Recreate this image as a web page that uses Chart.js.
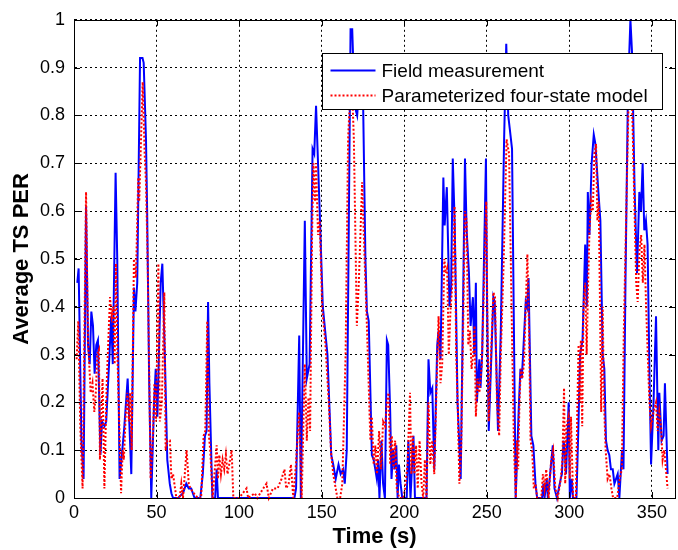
<!DOCTYPE html>
<html>
<head>
<meta charset="utf-8">
<script src="https://cdn.jsdelivr.net/npm/chart.js@4.4.0/dist/chart.umd.min.js"></script>
<style>
    html, body { margin: 0; padding: 0; background: #fff; }
    #wrap { width: 678px; height: 550px; }
</style>
</head>
<body>
<div id="wrap"><canvas id="perChart" width="678" height="550"></canvas></div>
<script>
// ==========================================
// AVERAGE TS PER vs TIME (field vs model)
// ==========================================

// --- DATA ---

const seriesLabels = ['Field measurement', 'Parameterized four-state model'];

const xTicks = [0, 50, 100, 150, 200, 250, 300, 350];
const yTicks = [0, 0.1, 0.2, 0.3, 0.4, 0.5, 0.6, 0.7, 0.8, 0.9, 1];

// [time (s), PER]
const fieldMeasurement = [
    [2, 0.45], [2.8, 0.48], [4.5, 0.12], [5.8, 0.04], [7.3, 0.61], [8.5, 0.32], [9.5, 0.28], [10.5, 0.39],
    [11.5, 0.36], [12.5, 0.26], [13.5, 0.32], [14.5, 0.33], [16, 0.09], [17, 0.16], [18.5, 0.15], [19.5, 0.16],
    [20.5, 0.23], [21.5, 0.30], [22.5, 0.38], [23.5, 0.28], [25.2, 0.68], [26.2, 0.50], [27.6, 0.04], [29, 0.09],
    [30.5, 0.15], [32.5, 0.25], [34.7, 0.05], [36.3, 0.44], [37.2, 0.39], [38.3, 0.45], [40, 0.92], [41.5, 0.92],
    [42.2, 0.91], [43.6, 0.75], [44.3, 0.60], [45.5, 0.25], [46.8, 0.00], [48.5, 0.20], [49.5, 0.27], [50.5, 0.17],
    [52.5, 0.45], [53.5, 0.49], [55, 0.30], [56.5, 0.08], [58, 0.03], [59, 0.01],
    [60, 0], [63, 0], [66, 0.01], [68, 0.03], [69.5, 0.02], [71, 0.02], [73, 0], [76.5, 0], [78, 0.05],
    [79.3, 0.13], [80.3, 0.14], [81.2, 0.41], [82, 0.24], [83.8, 0], [85.5, 0], [86.4, 0.06], [87.2, 0],
    [100, 0], [120, 0], [133.5, 0],
    [134.5, 0.02], [136.4, 0.34], [137.4, 0], [139.8, 0.58], [141, 0.25], [142.7, 0.28], [144.5, 0.73],
    [145.5, 0.72], [146.6, 0.82], [148.8, 0.60], [150.7, 0.40], [153.5, 0.30], [155.8, 0.09], [157, 0.07],
    [158.5, 0.04], [160.2, 0.07], [161.5, 0.05], [163, 0.06], [164, 0.03], [165.2, 0.10], [167.5, 0.98],
    [168.5, 0.98], [170, 0.82], [171.5, 0.80], [173.5, 0.90], [175, 0.85], [176.5, 0.50], [177.4, 0.39],
    [178.5, 0.37], [180.4, 0.09], [181.5, 0.08], [182.5, 0.06], [183.4, 0.04], [184.2, 0.08], [185, 0],
    [186.2, 0.12], [187.2, 0.03], [188.3, 0], [189.5, 0.33], [190.3, 0.32], [191.5, 0.18], [192.3, 0.04],
    [193.3, 0.10], [194.2, 0.06], [195.2, 0.11], [196, 0], [196.8, 0.07], [197.8, 0.03], [198.8, 0],
    [201.5, 0], [202.5, 0.12], [203.8, 0], [205.6, 0.13], [206.5, 0], [213.5, 0],
    [214.7, 0.29], [215.8, 0.22], [217, 0.23], [218.2, 0.06], [220, 0.32], [220.8, 0.35], [222, 0.29],
    [223.7, 0.67], [224.5, 0.57], [225.8, 0.65], [227.4, 0.40], [228.4, 0.44], [229.4, 0.71], [230.6, 0.57],
    [232.3, 0.20], [234.2, 0.04], [236.8, 0.71], [237.8, 0.56], [239.2, 0.47], [240.2, 0.36], [241.6, 0.42],
    [242.4, 0.30], [243.4, 0.45], [244, 0.20], [245.5, 0.29], [246.2, 0.23], [247.2, 0.30], [249.5, 0.71],
    [250.2, 0.40], [251.2, 0.14], [252.5, 0.27], [254, 0.42], [254.8, 0.41], [256.8, 0.14], [258.5, 0.35],
    [260.5, 0.75], [261.8, 0.95], [263, 0.80], [264, 0.77], [265.3, 0.73], [267.5, 0],
    [268.5, 0.10], [269.5, 0.20], [270.4, 0.27], [271.2, 0.25], [272, 0.30], [273.6, 0.41], [274.4, 0.40],
    [275.3, 0.46], [277, 0.13], [278.2, 0.11], [279.5, 0.03], [280.5, 0], [283.5, 0], [284.3, 0.03],
    [285, 0], [286.3, 0.04], [287, 0], [290, 0.11], [291, 0.02], [292.5, 0], [294.8, 0.04], [295.5, 0.05],
    [296.5, 0.12], [297.2, 0.10], [298, 0.05], [299.6, 0.20], [300.3, 0], [301.5, 0.04], [302.2, 0], [304.3, 0],
    [305.5, 0.15], [306.5, 0.30], [308, 0.33], [309.6, 0.53], [310.6, 0.40], [311.2, 0.64], [312.2, 0.55],
    [313.5, 0.70], [314.8, 0.76], [315.8, 0.74], [317.6, 0.64], [318.8, 0.58], [320.2, 0.30], [321.2, 0.27],
    [322.2, 0.12], [323.2, 0.10], [324.2, 0.09], [325.2, 0.06], [326.3, 0.06], [327.3, 0.03], [328.3, 0.04],
    [329.3, 0.05], [330.3, 0], [331.9, 0.10], [332.8, 0.06], [334, 0.45], [335.5, 0.85], [337, 1.00],
    [338, 0.93], [339.5, 0.65], [341, 0.47], [342.4, 0.64], [343.4, 0.60], [344.4, 0.70], [345.4, 0.56],
    [346.4, 0.58], [347.4, 0.53], [348.4, 0.29], [349.5, 0.07], [351, 0.20], [352.5, 0.38], [353.9, 0.10],
    [354.5, 0.22], [355.9, 0.12], [357.1, 0.13], [357.9, 0.24], [359.5, 0.05]
];

const fourStateModel = [
    [1.6, 0.29], [2.6, 0.37], [3.8, 0.15], [5.2, 0.02], [7.3, 0.64], [8.5, 0.33], [10.1, 0.22], [11.2, 0.24],
    [12.3, 0.18], [13.2, 0.22], [14.1, 0.30], [15.1, 0.31], [15.7, 0.08], [17.3, 0.25], [18.4, 0.02], [19.8, 0.24],
    [21.8, 0.42], [22.8, 0.38], [23.8, 0.40], [24.6, 0.28], [25.4, 0.49], [26.3, 0.30], [28.5, 0.01], [29.5, 0.10],
    [30.2, 0.08], [31.3, 0.17], [32.3, 0.22], [33.2, 0.16], [34, 0.22], [34.9, 0.10], [36.3, 0.50], [37.5, 0.46],
    [38.9, 0.67], [39.5, 0.62], [41.6, 0.87], [42.8, 0.72], [43.6, 0.66], [44.6, 0.50], [46.4, 0.04], [47.8, 0.13],
    [48.7, 0.24], [49.7, 0.16], [51.1, 0.49], [52, 0.16], [53.2, 0.20], [54.7, 0.43], [55.5, 0.10], [56.5, 0.12],
    [58.1, 0.12], [59, 0.04], [60, 0.05], [62, 0], [64, 0], [65, 0.03], [66, 0], [68.2, 0.10], [69.5, 0.03],
    [70.5, 0.02], [72.5, 0.01], [75, 0], [77, 0], [78.5, 0.13], [79.5, 0.14], [80.7, 0.37], [81.7, 0.13],
    [82.5, 0.10], [84, 0], [86.4, 0.11], [87.2, 0.04], [88, 0.09], [89, 0.05], [90, 0.08], [91, 0.06],
    [92, 0.09], [93, 0.05], [94.5, 0.08], [95.5, 0.10], [96.5, 0],
    [100, 0], [104.5, 0.02], [105.5, 0], [109.5, 0.01], [111, 0], [114.6, 0.02], [116.6, 0.03], [118, 0],
    [120.5, 0.02], [123.3, 0.02], [125.7, 0.04], [127.5, 0.06], [128.5, 0.02], [130, 0.03], [131.4, 0.07],
    [132.8, 0], [134.4, 0.07], [136.4, 0.18], [137.9, 0], [139.8, 0.28], [141, 0.12], [142, 0.21], [143, 0.14],
    [144.2, 0.55], [145, 0.70], [146, 0.62], [146.6, 0.70], [147.8, 0.55], [148.8, 0.58], [150.3, 0.40],
    [152.3, 0.32], [154.3, 0.20], [155.8, 0.09], [157, 0.05], [158.5, 0.02], [159.5, 0], [161.2, 0],
    [162.5, 0.03], [164.5, 0.30], [166, 0.75], [168, 0.90], [169.5, 0.75], [171.3, 0.36], [172.5, 0.45],
    [174.5, 0.66], [176, 0.50], [177.5, 0.35], [178.8, 0.20], [179.5, 0.12], [180.4, 0.17], [181.5, 0.07],
    [182.5, 0.11], [183.5, 0.05], [184.8, 0.14], [186, 0.06], [187.2, 0.16], [188.5, 0.15], [189.5, 0.20],
    [190.5, 0.22], [191.5, 0.07], [192.5, 0.13], [193.5, 0.06], [194.5, 0.12], [195.5, 0.02], [197, 0],
    [199.5, 0], [200.5, 0.02], [202, 0.07], [203.5, 0.22], [204.3, 0.05], [205.2, 0.13], [206.2, 0.05],
    [207.2, 0.11], [208.2, 0.02], [209.3, 0.12], [210.5, 0.03], [211.5, 0], [212.5, 0.08], [213.5, 0],
    [214.7, 0.20], [215.8, 0.07], [217, 0.12], [218.2, 0.05], [219.5, 0.22], [220.8, 0.38], [222, 0.24],
    [223, 0.28], [224.3, 0.50], [225.2, 0.47], [226, 0.48], [227, 0.30], [228, 0.39], [229.2, 0.45],
    [230.5, 0.61], [231.5, 0.30], [232.5, 0.18], [233.4, 0.03], [234.5, 0.10], [236.8, 0.60], [237.8, 0.58],
    [238.8, 0.32], [239.8, 0.35], [240.8, 0.27], [241.8, 0.30], [242.6, 0.36], [243.4, 0.17], [244.4, 0.25],
    [245.5, 0.22], [247, 0.28], [249.7, 0.62], [250.4, 0.37], [251.2, 0.16], [252, 0.25], [254, 0.43],
    [255, 0.42], [256.2, 0.20], [257.5, 0.13], [258.5, 0.30], [260.2, 0.49], [262, 0.75], [263.5, 0.72],
    [265, 0.40], [266.5, 0.10], [267.6, 0],
    [268.3, 0.12], [269, 0.06], [269.8, 0.20], [270.6, 0.27], [271.5, 0.25], [272.5, 0.28], [273.6, 0.40],
    [274.6, 0.51], [275.6, 0.35], [276.5, 0.12], [277.5, 0.10], [278.5, 0.02], [279.5, 0.03], [280.5, 0],
    [283, 0], [284, 0.05], [285, 0.02], [286, 0.06], [287.5, 0], [289, 0.08], [290.2, 0.10], [291.5, 0.02],
    [293, 0], [294.8, 0.04], [295.8, 0.08], [296.8, 0.23], [297.5, 0.03], [298.3, 0.15], [299.5, 0.17],
    [300.3, 0.04], [301, 0.17], [302.3, 0], [304, 0],
    [304.8, 0.18], [305.6, 0.32], [306.3, 0.20], [307, 0.33], [307.8, 0.15], [308.6, 0.40], [309.6, 0.45],
    [310.5, 0.30], [311.2, 0.42], [312.2, 0.56], [313.2, 0.62], [314.2, 0.60], [315.2, 0.72], [316.2, 0.74],
    [317, 0.58], [317.8, 0.62], [318.6, 0.40], [319.3, 0.18], [320.2, 0.40], [321, 0.20], [322, 0.10],
    [323.2, 0.04], [324.3, 0.05], [325.5, 0.02], [326.5, 0], [329, 0], [330.5, 0.04], [331.8, 0.06],
    [333, 0.35], [334.5, 0.60], [336, 0.85], [337.3, 0.93], [338.3, 0.78], [339.5, 0.60], [340.5, 0.45],
    [341.4, 0.41], [342.5, 0.52], [343.5, 0.55], [344.5, 0.45], [345.5, 0.53], [346.5, 0.40], [347.5, 0.30],
    [348.5, 0.20], [349.5, 0.15], [351, 0.18], [352.5, 0.20], [353.5, 0.14], [354.5, 0.18], [355.5, 0.15],
    [356.5, 0.08], [357.5, 0.10], [358.5, 0.06], [359.5, 0.02]
];

// --- STYLE HELPERS ---

const FONT = "'Liberation Sans', Arial, Helvetica, sans-serif";

function toPoints(pairs) {
    return pairs.map(p => ({ x: p[0], y: p[1] }));
}

// MATLAB-like axes box, inward ticks and an in-plot legend
const axesBoxPlugin = {
    id: 'axesBox',
    afterDraw(chart) {
        const { ctx, chartArea: a, scales } = chart;
        const tickLen = 6;
        ctx.save();
        ctx.strokeStyle = '#000';
        ctx.lineWidth = 1;
        ctx.setLineDash([]);

        // inward ticks on all four sides
        ctx.beginPath();
        xTicks.forEach(v => {
            const px = Math.round(scales.x.getPixelForValue(v)) + 0.5;
            ctx.moveTo(px, a.bottom); ctx.lineTo(px, a.bottom - tickLen);
            ctx.moveTo(px, a.top); ctx.lineTo(px, a.top + tickLen);
        });
        yTicks.forEach(v => {
            const py = Math.round(scales.y.getPixelForValue(v)) + 0.5;
            ctx.moveTo(a.left, py); ctx.lineTo(a.left + tickLen, py);
            ctx.moveTo(a.right, py); ctx.lineTo(a.right - tickLen, py);
        });
        ctx.stroke();

        ctx.strokeRect(Math.round(a.left) + 0.5, Math.round(a.top) + 0.5,
            Math.round(a.right - a.left), Math.round(a.bottom - a.top));

        // legend box
        const lx = Math.round(a.left + 248) + 0.5;
        const ly = Math.round(a.top + 33) + 0.5;
        const lw = 340, lh = 56;
        ctx.fillStyle = '#fff';
        ctx.fillRect(lx, ly, lw, lh);
        ctx.strokeRect(lx, ly, lw, lh);

        const rows = [
            { text: seriesLabels[0], color: '#0000ff', dash: [] },
            { text: seriesLabels[1], color: '#ff0000', dash: [2, 2] }
        ];
        ctx.font = '19px ' + FONT;
        ctx.textBaseline = 'middle';
        rows.forEach((r, i) => {
            const cy = ly + 17 + i * 25;
            ctx.beginPath();
            ctx.lineWidth = 2;
            ctx.strokeStyle = r.color;
            ctx.setLineDash(r.dash);
            ctx.moveTo(lx + 8, cy);
            ctx.lineTo(lx + 53, cy);
            ctx.stroke();
            ctx.fillStyle = '#000';
            ctx.fillText(r.text, lx + 59, cy + 1);
        });
        ctx.restore();
    }
};

// --- CHART ---

function renderChart() {
    const ctx = document.getElementById('perChart');

    new Chart(ctx, {
        type: 'line',
        data: {
            datasets: [
                {
                    label: seriesLabels[0],
                    data: toPoints(fieldMeasurement),
                    borderColor: '#0000ff',
                    borderWidth: 2,
                    pointRadius: 0,
                    tension: 0,
                    clip: false,
                    order: 2
                },
                {
                    label: seriesLabels[1],
                    data: toPoints(fourStateModel),
                    borderColor: '#ff0000',
                    borderWidth: 2,
                    borderDash: [2, 2],
                    pointRadius: 0,
                    tension: 0,
                    clip: false,
                    order: 1
                }
            ]
        },
        options: {
            responsive: false,
            animation: false,
            layout: { padding: { top: 15, right: 3, left: 0, bottom: 0 } },
            plugins: {
                legend: { display: false },
                tooltip: { enabled: false }
            },
            scales: {
                x: {
                    type: 'linear',
                    min: 0,
                    max: 364,
                    afterBuildTicks: s => { s.ticks = xTicks.map(v => ({ value: v })); },
                    afterFit: s => { s.height = 52; },
                    grid: { color: '#000', lineWidth: 1, drawTicks: false },
                    border: { display: true, color: '#000', dash: [2, 3] },
                    ticks: {
                        color: '#000',
                        font: { family: FONT, size: 18 },
                        padding: 4,
                        maxRotation: 0,
                        autoSkip: false
                    },
                    title: {
                        display: true,
                        text: 'Time (s)',
                        color: '#000',
                        font: { family: FONT, size: 22, weight: 'bold' },
                        padding: { top: 0, bottom: 0 }
                    }
                },
                y: {
                    min: 0,
                    max: 1,
                    afterBuildTicks: s => { s.ticks = yTicks.map(v => ({ value: v })); },
                    afterFit: s => { s.width = 74; },
                    grid: { color: '#000', lineWidth: 1, drawTicks: false },
                    border: { display: true, color: '#000', dash: [2, 3] },
                    ticks: {
                        color: '#000',
                        font: { family: FONT, size: 18 },
                        padding: 9,
                        callback: v => String(v)
                    },
                    title: {
                        display: true,
                        text: 'Average TS PER',
                        color: '#000',
                        font: { family: FONT, size: 22, weight: 'bold' },
                        padding: { top: 9, bottom: 0 }
                    }
                }
            }
        },
        plugins: [axesBoxPlugin]
    });
}

document.addEventListener('DOMContentLoaded', renderChart);
</script>
</body>
</html>
